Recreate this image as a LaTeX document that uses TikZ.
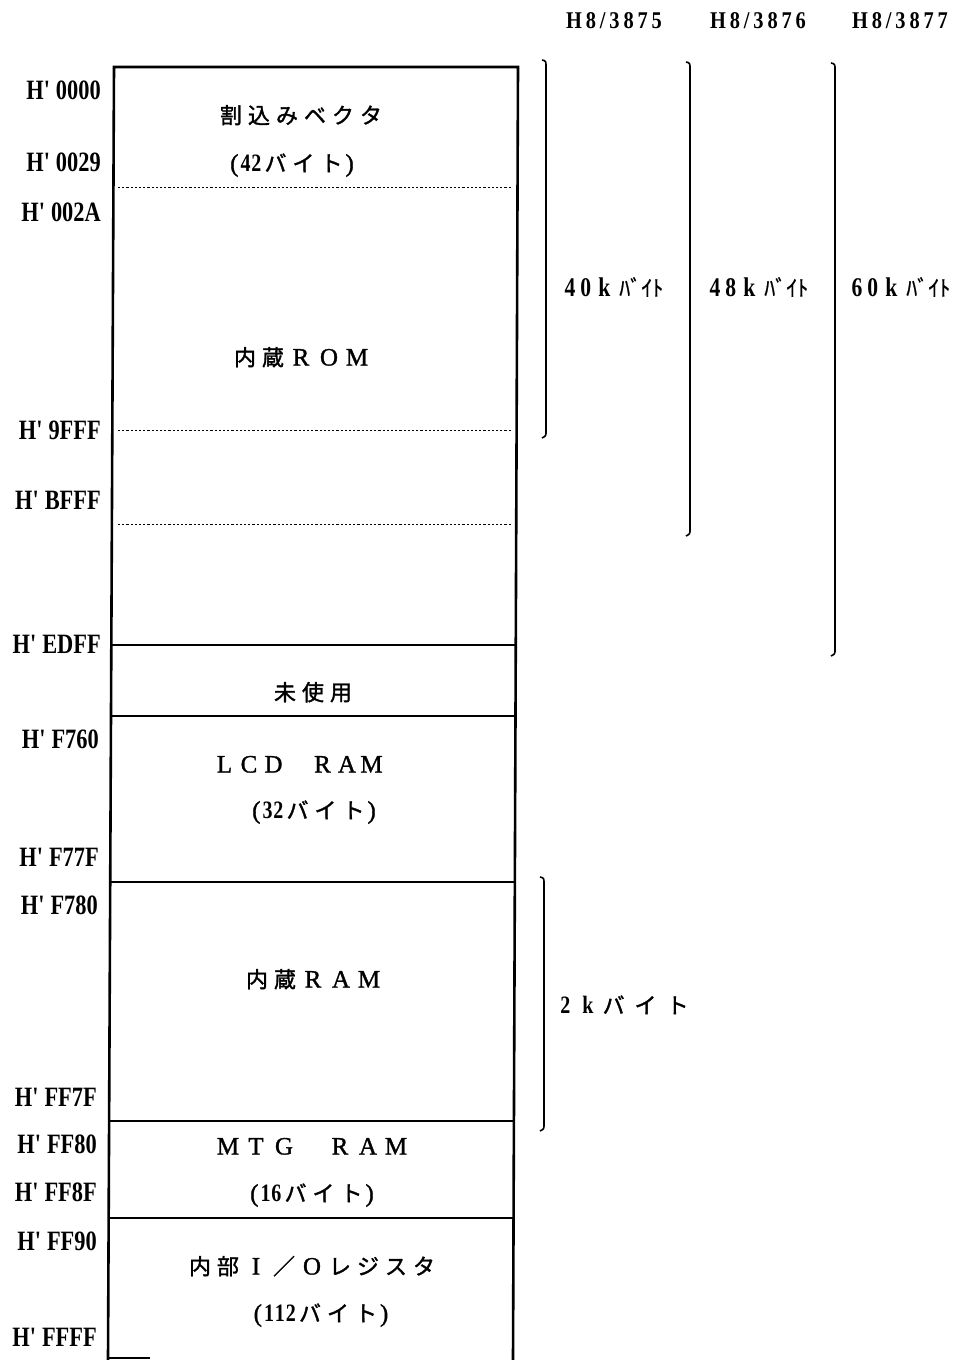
\documentclass[tikz,border=0pt]{standalone}
\usepackage{fontspec}
\newfontfamily\jp{Noto Sans CJK JP}[FakeBold=1.5]
\newfontfamily\jph{Noto Sans CJK JP}[FakeBold=0.8]
\newfontfamily\lat{Liberation Serif}[FakeBold=1.2]
\newfontfamily\addrf{Liberation Serif}[FakeStretch=0.8]
\newfontfamily\hdrf{Liberation Serif}[FakeStretch=0.85, LetterSpace=16]
\newcommand\Z[1]{\makebox[28pt]{#1}}
\newcommand\ZL[1]{\makebox[24.5pt]{#1}}
\newcommand\ZK[1]{\makebox[32pt]{#1}}
\newcommand\LL[1]{{\lat\fontsize{25}{26}\selectfont #1}}
\newcommand\LD[1]{{\addrf\bfseries\fontsize{25}{26}\selectfont #1}}
\tikzset{
  outer/.style={line width=2.6pt},
  sep/.style={line width=1.2pt},
  dots/.style={line width=0.9pt, dash pattern=on 2.2pt off 2pt},
  brk/.style={line width=1.6pt},
  boxtext/.style={inner sep=0pt, text height=17pt, text depth=0pt, font=\jp\fontsize{22}{24}\selectfont},
  addr/.style={inner sep=0pt, anchor=east, text height=18.6pt, text depth=0pt, font=\addrf\bfseries\fontsize{28}{30}\selectfont},
  hdr/.style={inner sep=0pt, text height=16pt, text depth=0pt, font=\hdrf\bfseries\fontsize{24}{26}\selectfont},
  sz/.style={inner sep=0pt, text height=18pt, text depth=0pt, font=\addrf\bfseries\fontsize{27}{28}\selectfont}
}
\begin{document}
\begin{tikzpicture}[x=1pt,y=-1pt]
\useasboundingbox (0,0) rectangle (963,1360);
% outer box
\coordinate (TL) at (114,67);
\coordinate (TR) at (518,67);
\coordinate (BL) at (108,1360);
\coordinate (BR) at (513,1360);
\draw[outer] (BL) -- (TL) -- (TR) -- (BR);
\draw[sep] (108,1358) -- (150,1358);
% dotted separators
\draw[dots] (118,187) -- (512,187);
\draw[dots] (118,430) -- (512,430);
\draw[dots] (118,524) -- (512,524);
% solid separators
\draw[sep] (111,645) -- (516,645);
\draw[sep] (111,716) -- (516,716);
\draw[sep] (110,882) -- (515,882);
\draw[sep] (109,1121) -- (514,1121);
\draw[sep] (109,1218) -- (514,1218);
% address labels
\node[addr] (a0000) at (101,90) {H'\kern6pt0000};
\node[addr] (a0029) at (101,162) {H'\kern6pt0029};
\node[addr] (a002A) at (101,212) {H'\kern6pt002A};
\node[addr] (a9FFF) at (101,430) {H'\kern6pt9FFF};
\node[addr] (aBFFF) at (101,500) {H'\kern6ptBFFF};
\node[addr] (aEDFF) at (101,644) {H'\kern6ptEDFF};
\node[addr] (aF760) at (99,739) {H'\kern6ptF760};
\node[addr] (aF77F) at (99,857) {H'\kern6ptF77F};
\node[addr] (aF780) at (98,905) {H'\kern6ptF780};
\node[addr] (aFF7F) at (97,1097) {H'\kern6ptFF7F};
\node[addr] (aFF80) at (97,1144) {H'\kern6ptFF80};
\node[addr] (aFF8F) at (97,1192) {H'\kern6ptFF8F};
\node[addr] (aFF90) at (97,1241) {H'\kern6ptFF90};
\node[addr] (aFFFF) at (97,1337) {H'\kern6ptFFFF};
% box texts
\node[boxtext] (vec) at (301,115) {\Z{割}\Z{込}\Z{み}\Z{ベ}\Z{ク}\Z{タ}};
\node[boxtext] (vecsz) at (292,163) {\LL{(}\kern2pt\LD{4\kern1pt2}\Z{バ}\Z{イ}\Z{ト}\LL{)}};
\node[boxtext] (rom) at (301,357) {\Z{内}\Z{蔵}\Z{\LL{R}}\Z{\LL{O}}\Z{\LL{M}}};
\node[boxtext] (unused) at (313,692) {\Z{未}\Z{使}\Z{用}};
\node[boxtext] (lcd) at (298,764) {\ZL{\LL{L}}\ZL{\LL{C}}\ZL{\LL{D}}\ZL{}\ZL{\LL{R}}\ZL{\LL{A}}\ZL{\LL{M}}};
\node[boxtext] (lcdsz) at (314,810) {\LL{(}\kern2pt\LD{3\kern1pt2}\Z{バ}\Z{イ}\Z{ト}\LL{)}};
\node[boxtext] (ram) at (313,979) {\Z{内}\Z{蔵}\Z{\LL{R}}\Z{\LL{A}}\Z{\LL{M}}};
\node[boxtext] (mtg) at (312,1146) {\Z{\LL{M}}\Z{\LL{T}}\Z{\LL{G}}\Z{}\Z{\LL{R}}\Z{\LL{A}}\Z{\LL{M}}};
\node[boxtext] (mtgsz) at (312,1193) {\LL{(}\kern2pt\LD{1\kern1pt6}\Z{バ}\Z{イ}\Z{ト}\LL{)}};
\node[boxtext] (io) at (312,1266) {\Z{内}\Z{部}\Z{\LL{I}}\Z{／}\Z{\LL{O}}\Z{レ}\Z{ジ}\Z{ス}\Z{タ}};
\node[boxtext] (iosz) at (321,1313) {\LL{(}\kern2pt\LD{1\kern1pt1\kern1pt2}\Z{バ}\Z{イ}\Z{ト}\LL{)}};
% headers
\node[hdr] (h75) at (614,20) {H8/3875};
\node[hdr] (h76) at (758,20) {H8/3876};
\node[hdr] (h77) at (900,20) {H8/3877};
% brackets
\draw[brk] (542,60) .. controls (546,61) .. (546,67) -- (546,431) .. controls (546,436) .. (542,438);
\draw[brk] (686,62) .. controls (690,63) .. (690,69) -- (690,529) .. controls (690,534) .. (686,536);
\draw[brk] (831,63) .. controls (835,64) .. (835,70) -- (835,649) .. controls (835,654) .. (831,656);
\draw[brk] (540,877) .. controls (544,878) .. (544,884) -- (544,1124) .. controls (544,1129) .. (540,1131);
% sizes
\node[sz] (k40) at (614,287) {4\kern5pt0\kern7pt k\kern9pt{\jph\mdseries\fontsize{22}{24}\selectfont ﾊﾞｲﾄ}};
\node[sz] (k48) at (759,287) {4\kern5pt8\kern7pt k\kern9pt{\jph\mdseries\fontsize{22}{24}\selectfont ﾊﾞｲﾄ}};
\node[sz] (k60) at (901,287) {6\kern5pt0\kern7pt k\kern9pt{\jph\mdseries\fontsize{22}{24}\selectfont ﾊﾞｲﾄ}};
\node[boxtext] (k2) at (627,1005) {\LD{2}\kern12pt\LD{k}\kern4pt\ZK{バ}\ZK{イ}\ZK{ト}};
\end{tikzpicture}
\end{document}
